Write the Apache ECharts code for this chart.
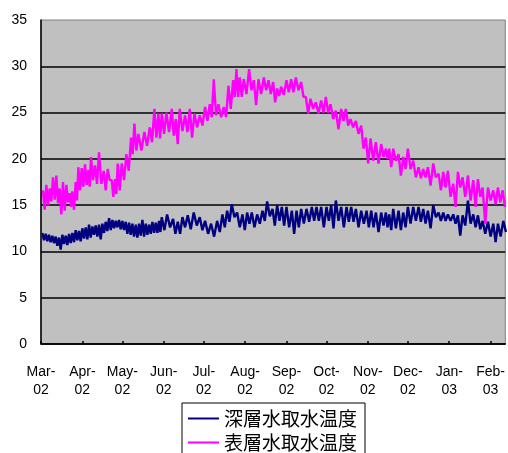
<!DOCTYPE html>
<html>
<head>
<meta charset="utf-8">
<script src="https://cdn.jsdelivr.net/npm/echarts@6/dist/echarts.min.js"></script>
<style>
  html, body { margin: 0; padding: 0; background: #fff; }
  #chart { width: 508px; height: 453px; }
</style>
</head>
<body>
<div id="chart"></div>
<script>
// Month ticks: day offsets from 1 Mar 2002 and their labels
const tickDays = [0, 31, 61, 92, 122, 153, 184, 214, 245, 275, 306, 337];
const tickLabels = ['Mar-\n02', 'Apr-\n02', 'May-\n02', 'Jun-\n02', 'Jul-\n02', 'Aug-\n02',
                    'Sep-\n02', 'Oct-\n02', 'Nov-\n02', 'Dec-\n02', 'Jan-\n03', 'Feb-\n03'];
const yTicks = [0, 5, 10, 15, 20, 25, 30, 35];

const seriesNames = ['深層水取水温度', '表層水取水温度'];

// Deep-water intake temperature (°C): sample day, daily high, daily low
const deepDays = [1, 3.5, 6, 8.5, 11, 13.5, 16, 18.5, 21, 23.5, 26, 28.5, 31, 33.5, 36, 38.5,
  41, 43.5, 46, 48.5, 51, 53.5, 56, 58.5, 61, 63.5, 66, 68.5, 71, 73.5, 76, 78.5, 81, 83.5,
  86, 88.5, 90.5, 94.5, 99, 102.5, 106, 110, 114.5, 119, 123, 127.5, 132, 136, 139.5, 143,
  147, 151, 154.5, 158, 162, 166, 169.5, 173.5, 177, 180.5, 184, 188, 191.5, 195, 199, 203,
  206.5, 210, 214, 217.5, 221, 225, 229, 232.5, 236, 240, 244, 247.5, 251, 255, 258.5, 261,
  264, 268, 271.5, 275, 279, 283, 286.5, 290, 294, 298, 301.5, 305, 309, 312.5, 316, 320,
  324, 327.5, 331, 335, 339, 342.5, 346.5];
const deepHigh = [12.0, 11.9, 11.8, 11.7, 11.6, 11.5, 11.8, 11.7, 11.9, 12.0, 12.3, 12.2, 12.5,
  12.6, 12.9, 12.7, 12.8, 12.9, 13.0, 13.2, 13.6, 13.4, 13.3, 13.4, 13.3, 13.2, 13.1, 13.0,
  12.9, 13.0, 13.4, 13.0, 12.9, 13.2, 13.1, 13.3, 13.7, 14.0, 13.5, 13.2, 13.7, 13.9, 14.2,
  13.7, 13.3, 13.0, 13.3, 14.0, 14.4, 15.1, 14.2, 14.0, 14.2, 14.2, 14.0, 14.4, 15.4, 14.6,
  15.0, 14.8, 14.8, 14.4, 14.4, 14.6, 14.6, 14.8, 14.8, 14.8, 14.8, 15.0, 15.5, 14.8, 14.8,
  14.8, 14.6, 14.4, 14.4, 14.4, 14.2, 14.2, 14.2, 14.0, 14.6, 14.4, 14.2, 14.8, 14.8, 14.8,
  14.6, 14.4, 15.0, 14.2, 14.2, 14.0, 14.0, 13.9, 13.9, 15.5, 14.0, 13.9, 13.3, 13.2, 13.0,
  13.0, 13.3];
const deepLow = [11.2, 11.1, 11.0, 10.9, 10.6, 10.2, 10.8, 10.7, 10.9, 11.0, 11.2, 11.1, 11.4,
  11.3, 11.5, 11.8, 11.6, 11.3, 12.0, 12.2, 12.3, 12.5, 12.6, 12.4, 12.3, 11.9, 11.8, 11.6,
  11.5, 11.7, 11.6, 11.8, 11.9, 12.0, 12.0, 12.1, 12.3, 12.6, 11.9, 11.9, 12.6, 12.4, 12.8,
  12.3, 11.9, 11.6, 12.1, 12.6, 13.2, 13.7, 12.6, 12.3, 13.0, 12.6, 13.0, 13.3, 13.8, 12.8,
  13.3, 12.8, 12.6, 11.9, 12.6, 13.0, 13.2, 13.3, 13.3, 12.6, 13.3, 12.5, 13.3, 12.6, 13.2,
  13.2, 12.6, 13.0, 12.6, 12.6, 12.1, 12.8, 12.6, 12.3, 12.5, 12.3, 12.6, 13.0, 13.3, 13.2,
  13.0, 12.5, 13.7, 13.3, 13.3, 13.3, 13.0, 11.7, 12.8, 13.0, 12.6, 12.4, 11.9, 11.6, 11.0,
  11.6, 12.1];

// Surface-water intake temperature (°C): sample day, daily high, daily low
const surfDays = [1.5, 4, 6.5, 9, 11.5, 14, 16.5, 19, 21.5, 23.5, 26, 28, 30.5, 33, 35.5, 37.5,
  40.5, 43.5, 47, 50, 53, 55.5, 57.5, 60.5, 64, 67.5, 70, 73, 77.5, 81.5, 85, 88, 90.5, 94,
  98, 101, 104, 108, 111.5, 115, 119, 123, 126.5, 129.5, 133, 137, 140.5, 144, 146.5, 149,
  152, 156, 159.5, 163, 167, 170.5, 174, 177, 180, 184, 187.5, 191, 195, 198.5, 202, 206,
  210, 213.5, 217, 221, 225, 228.5, 232, 236, 240, 243.5, 247, 251, 255, 258.5, 261, 264,
  268, 271.5, 275, 279, 283, 286.5, 290, 294, 298, 301.5, 305, 309, 312.5, 316, 320, 324,
  327.5, 331, 335, 339, 342.5, 346];
const surfHigh = [16.6, 17.2, 16.8, 18.0, 18.2, 16.8, 17.5, 17.2, 16.3, 16.5, 17.5, 19.1, 19.0,
  19.4, 18.8, 20.2, 19.3, 20.7, 18.7, 18.9, 17.7, 17.8, 19.5, 19.5, 20.5, 22.3, 23.8, 22.7,
  22.9, 23.4, 25.4, 24.9, 24.9, 25.0, 25.4, 24.3, 25.4, 24.7, 25.4, 24.9, 24.7, 25.6, 25.9,
  28.6, 25.9, 25.6, 27.9, 28.5, 29.7, 28.8, 28.6, 29.7, 28.5, 28.6, 28.8, 28.5, 28.3, 27.6,
  27.8, 28.5, 28.6, 28.8, 28.3, 26.7, 26.5, 26.1, 26.3, 26.7, 25.9, 25.2, 25.4, 25.4, 24.3,
  24.1, 23.6, 22.3, 22.2, 21.8, 21.6, 21.1, 21.1, 21.1, 20.5, 20.2, 21.1, 19.8, 19.1, 18.9,
  19.1, 19.5, 18.4, 18.6, 18.7, 17.3, 18.6, 18.0, 18.2, 17.7, 17.8, 16.9, 16.9, 16.6, 16.9,
  16.6];
const surfLow = [14.5, 15.0, 15.4, 15.6, 15.2, 14.0, 14.4, 15.3, 14.8, 14.5, 15.5, 16.6, 17.0,
  17.2, 17.0, 17.7, 17.3, 17.3, 16.6, 17.7, 15.9, 16.2, 16.6, 17.7, 18.7, 20.5, 20.9, 20.9,
  21.4, 21.8, 22.3, 22.2, 22.7, 22.9, 22.5, 21.6, 23.0, 22.9, 22.3, 23.4, 23.6, 24.1, 24.5,
  24.7, 24.5, 24.5, 25.4, 26.7, 26.7, 26.7, 27.0, 27.4, 25.8, 27.0, 27.4, 27.0, 26.1, 26.8,
  26.9, 27.2, 27.2, 27.4, 26.7, 24.9, 25.4, 24.9, 25.0, 25.0, 24.3, 23.2, 24.1, 23.6, 23.4,
  22.7, 21.1, 19.5, 19.8, 19.5, 20.2, 20.0, 19.1, 19.8, 18.2, 18.9, 18.9, 18.0, 17.9, 18.0,
  17.1, 18.0, 16.6, 16.9, 15.9, 14.8, 16.9, 15.9, 15.5, 14.8, 15.9, 13.0, 15.5, 15.1, 15.3,
  14.8];

// Each sample is drawn as a rise to its high followed by a drop to its low,
// which renders the daily swing as a dense band.
function swingTrace(days, highs, lows) {
  const pts = [];
  for (let i = 0; i < days.length; i++) {
    const gap = i < days.length - 1 ? days[i + 1] - days[i] : days[i] - days[i - 1];
    pts.push([days[i], highs[i]]);
    pts.push([days[i] + gap / 2, lows[i]]);
  }
  return pts;
}

const chart = echarts.init(document.getElementById('chart'), null, { renderer: 'canvas' });

const labelFont = 'Liberation Sans, Arial, sans-serif';

chart.setOption({
  animation: false,
  backgroundColor: '#ffffff',
  grid: {
    left: 41, top: 20, right: 0, bottom: 109,
    show: true,
    backgroundColor: '#c0c0c0',
    borderColor: '#808080',
    borderWidth: 1
  },
  xAxis: {
    type: 'value',
    min: 0,
    max: 348,
    axisLine: { show: true, onZero: false, lineStyle: { color: '#000', width: 1.5 } },
    axisTick: { show: true, inside: true, length: 3, customValues: tickDays,
                lineStyle: { color: '#000', width: 1.5 } },
    axisLabel: {
      customValues: tickDays,
      margin: 19,
      fontFamily: labelFont,
      fontSize: 14,
      lineHeight: 18,
      color: '#000',
      formatter: function (v) {
        const i = tickDays.indexOf(Math.round(v));
        return i >= 0 ? tickLabels[i] : '';
      }
    },
    splitLine: { show: false }
  },
  yAxis: {
    type: 'value',
    min: yTicks[0],
    max: yTicks[yTicks.length - 1],
    interval: 5,
    axisLine: { show: true, lineStyle: { color: '#000', width: 1.5 } },
    axisTick: { show: false },
    axisLabel: { margin: 14, fontFamily: labelFont, fontSize: 14, color: '#000' },
    splitLine: { show: true, showMaxLine: false, lineStyle: { color: '#000', width: 1.5 } }
  },
  legend: {
    type: 'plain',
    orient: 'vertical',
    left: 182,
    top: 403,
    height: 80,
    padding: [6, 8, 6, 6],
    itemGap: 5,
    itemWidth: 31,
    itemHeight: 2,
    icon: 'rect',
    borderColor: '#000',
    borderWidth: 1,
    backgroundColor: '#fff',
    textStyle: { fontFamily: 'Noto Sans CJK JP', fontSize: 19, lineHeight: 19, color: '#000' },
    data: seriesNames
  },
  series: [
    {
      name: seriesNames[0],
      type: 'line',
      data: swingTrace(deepDays, deepHigh, deepLow),
      showSymbol: false,
      symbol: 'none',
      color: '#000080',
      lineStyle: { color: '#000080', width: 2.4 },
      z: 3
    },
    {
      name: seriesNames[1],
      type: 'line',
      data: swingTrace(surfDays, surfHigh, surfLow),
      showSymbol: false,
      symbol: 'none',
      color: '#ff00ff',
      lineStyle: { color: '#ff00ff', width: 2.4 },
      z: 4
    }
  ]
});
</script>
</body>
</html>
